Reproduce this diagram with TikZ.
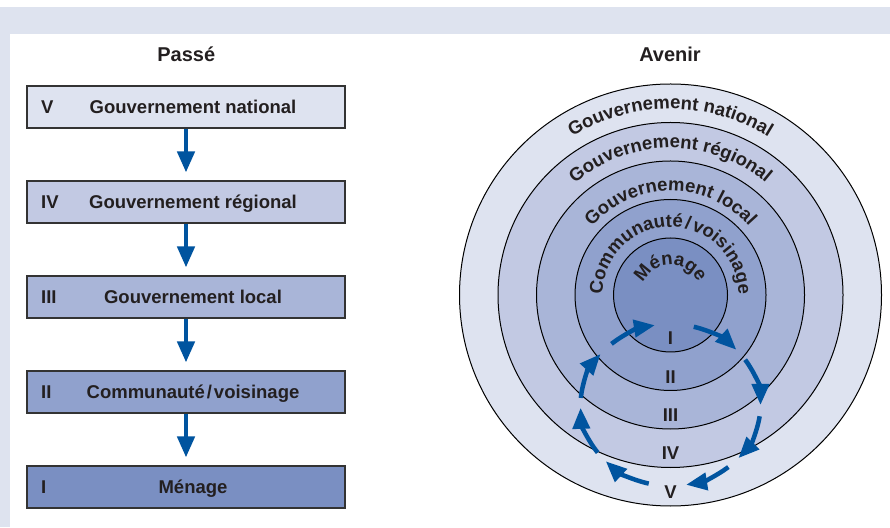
\documentclass[tikz,border=0pt]{standalone}
\usepackage{fontspec}
\setmainfont{Liberation Sans}
\usepackage{xcolor}
\usetikzlibrary{arrows.meta,decorations.text}

\definecolor{bandgray}{RGB}{222,227,239}
\definecolor{levV}{RGB}{222,227,240}
\definecolor{levIV}{RGB}{194,201,227}
\definecolor{levIII}{RGB}{169,181,216}
\definecolor{levII}{RGB}{144,161,205}
\definecolor{levI}{RGB}{122,143,194}
\definecolor{flowblue}{RGB}{0,84,159}
\definecolor{inkcol}{RGB}{35,31,32}

\newcommand{\lvlfont}{\bfseries\fontsize{18.5}{22}\selectfont}
\newcommand{\headfont}{\bfseries\fontsize{20}{24}\selectfont}

\begin{document}
\begin{tikzpicture}[x=1pt, y=1pt,
            level/.style = {rectangle,
                        draw=black!80,
                        line width=1.1pt,
                        minimum width=318pt,
                        minimum height=42pt},
            ring/.style = {circle,
                        draw=black,
                        line width=1pt,
                        inner sep=0pt},
            lbl/.style = {font=\lvlfont,
                        text=inkcol,
                        inner sep=0pt,
                        text height=13.3pt,
                        text depth=0pt},
            flow/.style = {draw=flowblue,
                        line width=4.5pt,
                        -{Triangle[length=21pt,width=17pt]}},
            bend text/.style = {decorate,
                        decoration={text along path,
                                    text align=center,
                                    text color=inkcol,
                                    text={|\lvlfont|#1}}}]
            \useasboundingbox (0,0) rectangle (890,527);
            % Frame
            \fill[bandgray] (0,0) rectangle (890,520);
            \fill[white] (10,0) rectangle (890,493);
            % Headings
            \node[font=\headfont, text=inkcol, anchor=base, inner sep=0pt] (past) at (186.3,465.3) {Passé};
            \node[font=\headfont, text=inkcol, anchor=base, inner sep=0pt] (future) at (670,465.3) {Avenir};
            % Past: boxes
            \node[level, fill=levV] (b5) at (186,420) {};
            \node[level, fill=levIV] (b4) at (186,325) {};
            \node[level, fill=levIII] (b3) at (186,230) {};
            \node[level, fill=levII] (b2) at (186,135) {};
            \node[level, fill=levI] (b1) at (186,40) {};
            % Box texts
            \node[lbl, anchor=west] (n5) at ([xshift=14.5pt]b5.west) {V};
            \node[lbl, anchor=west] (n4) at ([xshift=14.5pt]b4.west) {IV};
            \node[lbl, anchor=west] (n3) at ([xshift=14.5pt]b3.west) {III};
            \node[lbl, anchor=west] (n2) at ([xshift=14.5pt]b2.west) {II};
            \node[lbl, anchor=west] (n1) at ([xshift=14.5pt]b1.west) {I};
            \node[lbl] (t5) at ([xshift=7pt]b5.center) {Gouvernement national};
            \node[lbl] (t4) at ([xshift=7pt]b4.center) {Gouvernement régional};
            \node[lbl] (t3) at ([xshift=7pt]b3.center) {Gouvernement local};
            \node[lbl] (t2) at ([xshift=7pt]b2.center) {Communauté\kern2pt/\kern2pt voisinage};
            \node[lbl] (t1) at ([xshift=7pt]b1.center) {Ménage};
            % Past: arrows
            \draw[flow, shorten >=8pt] (b5) -- (b4);
            \draw[flow, shorten >=8pt] (b4) -- (b3);
            \draw[flow, shorten >=8pt] (b3) -- (b2);
            \draw[flow, shorten >=8pt] (b2) -- (b1);
            % Future: rings
            \coordinate (c) at (670.5,232);
            \node[ring, fill=levV, minimum size=422pt] (r5) at (c) {};
            \node[ring, fill=levIV, minimum size=345pt] (r4) at (c) {};
            \node[ring, fill=levIII, minimum size=268pt] (r3) at (c) {};
            \node[ring, fill=levII, minimum size=191pt] (r2) at (c) {};
            \node[ring, fill=levI, minimum size=114pt] (r1) at (c) {};
            % Ring names
            \path[bend text={Gouvernement national}] (c) ++(160:186pt) arc[start angle=160, end angle=20, radius=186pt];
            \path[bend text={Gouvernement régional}] (c) ++(165:147pt) arc[start angle=165, end angle=15, radius=147pt];
            \path[bend text={Gouvernement local}] (c) ++(170:104pt) arc[start angle=170, end angle=10, radius=104pt];
            \path[bend text={Communauté{\kern2pt/\kern2pt}voisinage}] (c) ++(200:68pt) arc[start angle=200, end angle=-20, radius=68pt];
            \path[bend text={Ménage}] (c) ++(175:30pt) arc[start angle=175, end angle=5, radius=30pt];
            % Ring numbers
            \node[lbl] (m1) at (670.5,189) {I};
            \node[lbl] (m2) at (670.5,150) {II};
            \node[lbl] (m3) at (670.5,112) {III};
            \node[lbl] (m4) at (670.5,74) {IV};
            \node[lbl] (m5) at (670.5,35) {V};
            % Cycle arrows
            \coordinate (o) at (670.5,122);
            \draw[flow] (o) ++(131:90pt and 81pt) arc[start angle=131, end angle=100, x radius=90pt, y radius=81pt];
            \draw[flow] (o) ++(75:90pt and 81pt) arc[start angle=75, end angle=43, x radius=90pt, y radius=81pt];
            \draw[flow] (o) ++(34:90pt and 81pt) arc[start angle=34, end angle=0, x radius=90pt, y radius=81pt];
            \draw[flow] (o) ++(-8:90pt and 81pt) arc[start angle=-8, end angle=-41, x radius=90pt, y radius=81pt];
            \draw[flow] (o) ++(-50:90pt and 81pt) arc[start angle=-50, end angle=-80, x radius=90pt, y radius=81pt];
            \draw[flow] (o) ++(-104:90pt and 81pt) arc[start angle=-104, end angle=-136, x radius=90pt, y radius=81pt];
            \draw[flow] (o) ++(-144:90pt and 81pt) arc[start angle=-144, end angle=-178, x radius=90pt, y radius=81pt];
            \draw[flow] (o) ++(175:90pt and 81pt) arc[start angle=175, end angle=141, x radius=90pt, y radius=81pt];
        \end{tikzpicture}
\end{document}
